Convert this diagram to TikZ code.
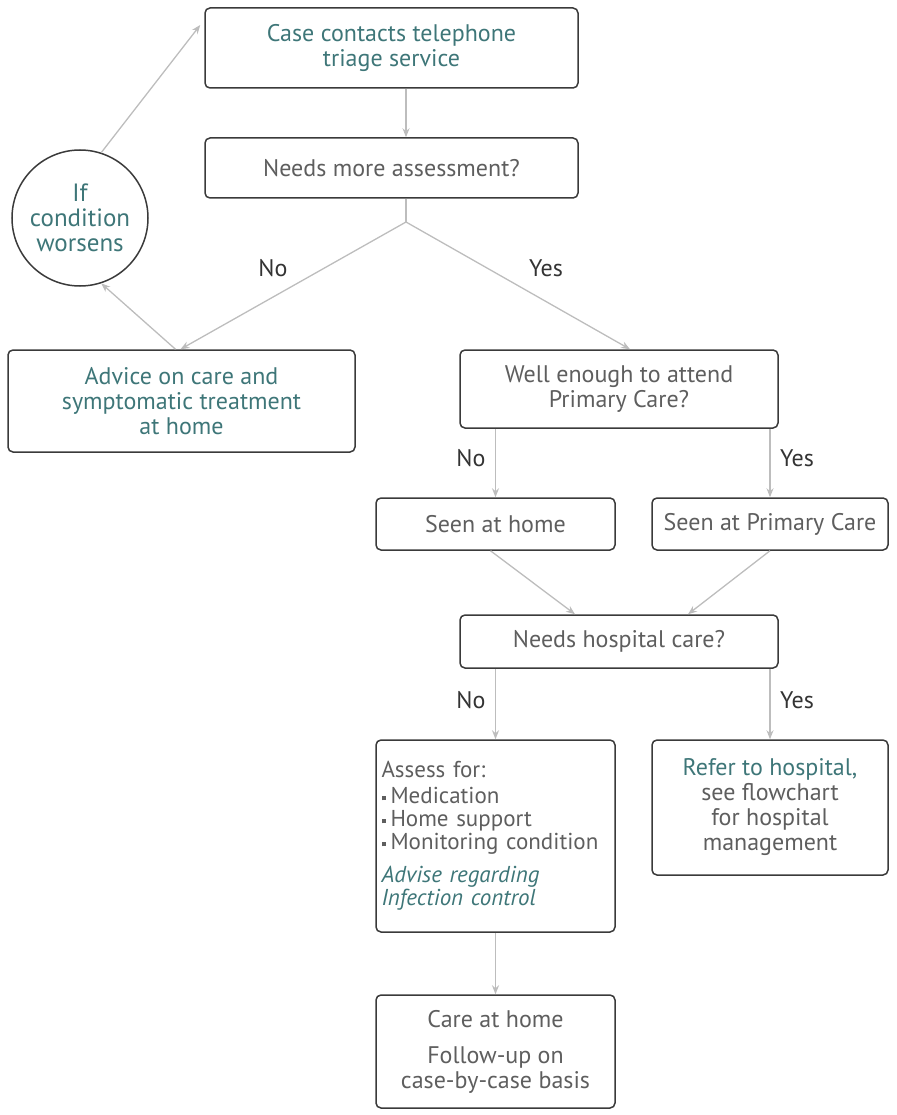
\documentclass[tikz,border=0pt]{standalone}
\usepackage{fontspec}
\setmainfont{PT Sans}
\usetikzlibrary{shapes}
\usetikzlibrary{arrows.meta}
\usetikzlibrary{positioning}

\definecolor{teal1}{HTML}{3E7678}
\definecolor{txtgray}{HTML}{5E5E5E}
\definecolor{boxline}{HTML}{3A3A3A}
\definecolor{arrgray}{HTML}{BDBDBD}

\tikzset{
  flowbox/.style={draw=boxline, line width=1.5pt, rounded corners=5pt, align=center,
    inner sep=4pt, text=txtgray, font=\fontsize{24}{25}\selectfont},
  hibox/.style={flowbox, text=teal1},
  flowarrow/.style={draw=arrgray, line width=1.3pt, -{Stealth[length=9pt,width=7pt]}},
  flowline/.style={draw=arrgray, line width=1.3pt},
  answer/.style={text=black!80, font=\fontsize{24}{25}\selectfont}
}

\newcommand{\sqbul}{\raisebox{0.3ex}{\rule{4pt}{4pt}}\hspace{5pt}}

\begin{document}
\begin{tikzpicture}[x=1pt,y=-1pt]
  \useasboundingbox (0,0) rectangle (896,1115);

  \node[hibox, minimum width=373pt, minimum height=80pt] (case) at (391.5,48)
    {Case contacts telephone\\triage service};
  \node[flowbox, minimum width=373pt, minimum height=60pt] (needs) at (391.5,168)
    {Needs more assessment?};
  \node[draw=boxline, line width=1.5pt, circle, minimum size=136pt, inner sep=0pt, align=center,
    text=teal1, font=\fontsize{25}{25}\selectfont] (worse) at (80,218)
    {If\\condition\\worsens};
  \node[hibox, minimum width=347pt, minimum height=102pt] (advice) at (181.5,401)
    {Advice on care and\\symptomatic treatment\\at home};
  \node[flowbox, minimum width=318pt, minimum height=78pt] (well) at (619,389)
    {Well enough to attend\\Primary Care?};
  \node[flowbox, minimum width=239pt, minimum height=52pt] (home) at (495.5,524)
    {Seen at home};
  \node[flowbox, minimum width=236pt, minimum height=52pt] (prim) at (770,524)
    {Seen at Primary Care};
  \node[flowbox, minimum width=318pt, minimum height=53pt] (hosp) at (619,641.5)
    {Needs hospital care?};
  \node[flowbox, minimum width=239pt, minimum height=192pt, text width=228pt, inner xsep=5.5pt,
    align=left, font=\fontsize{23}{23}\selectfont] (assess) at (495.5,836)
    {Assess for:\\[3pt]
     \sqbul Medication\\
     \sqbul Home support\\
     \sqbul Monitoring condition\\[10pt]
     {\color{teal1}\itshape Advise regarding\\Infection control}};
  \node[flowbox, minimum width=236pt, minimum height=135pt] (refer) at (770,807.5)
    {{\color{teal1}Refer to hospital,}\\see flowchart\\for hospital\\management};
  \node[flowbox, minimum width=239pt, minimum height=113pt] (care) at (495.5,1051.5)
    {Care at home\\[11pt]Follow-up on\\case-by-case basis};

  \coordinate (split) at (406,222);

  \draw[flowarrow] (case.south -| split) -- (needs.north -| split);
  \draw[flowline] (needs.south -| split) -- (split);
  \draw[flowarrow] (split) -- ([xshift=-1pt]advice.north);
  \draw[flowarrow] (split) -- ([xshift=11pt]well.north);
  \draw[flowarrow] ([xshift=-6pt]advice.north) -- (worse.-72);
  \draw[flowarrow] (worse.72) -- ([xshift=-4pt,yshift=23pt]case.west);

  \draw[flowarrow] (well.south -| home.north) -- (home.north);
  \draw[flowarrow] (well.south -| prim.north) -- (prim.north);
  \draw[flowarrow] ([xshift=-5pt]home.south) -- ([xshift=-44pt]hosp.north);
  \draw[flowarrow] (prim.south) -- ([xshift=69pt]hosp.north);
  \draw[flowarrow] (hosp.south -| assess.north) -- (assess.north);
  \draw[flowarrow] (hosp.south -| refer.north) -- (refer.north);
  \draw[flowarrow] (assess.south) -- (care.north);

  \node[answer] (no1) at (273,268) {No};
  \node[answer] (yes1) at (546,268) {Yes};
  \node[answer] (no2) at (471,458) {No};
  \node[answer] (yes2) at (797,458) {Yes};
  \node[answer] (no3) at (471,700) {No};
  \node[answer] (yes3) at (797,700) {Yes};
\end{tikzpicture}
\end{document}
